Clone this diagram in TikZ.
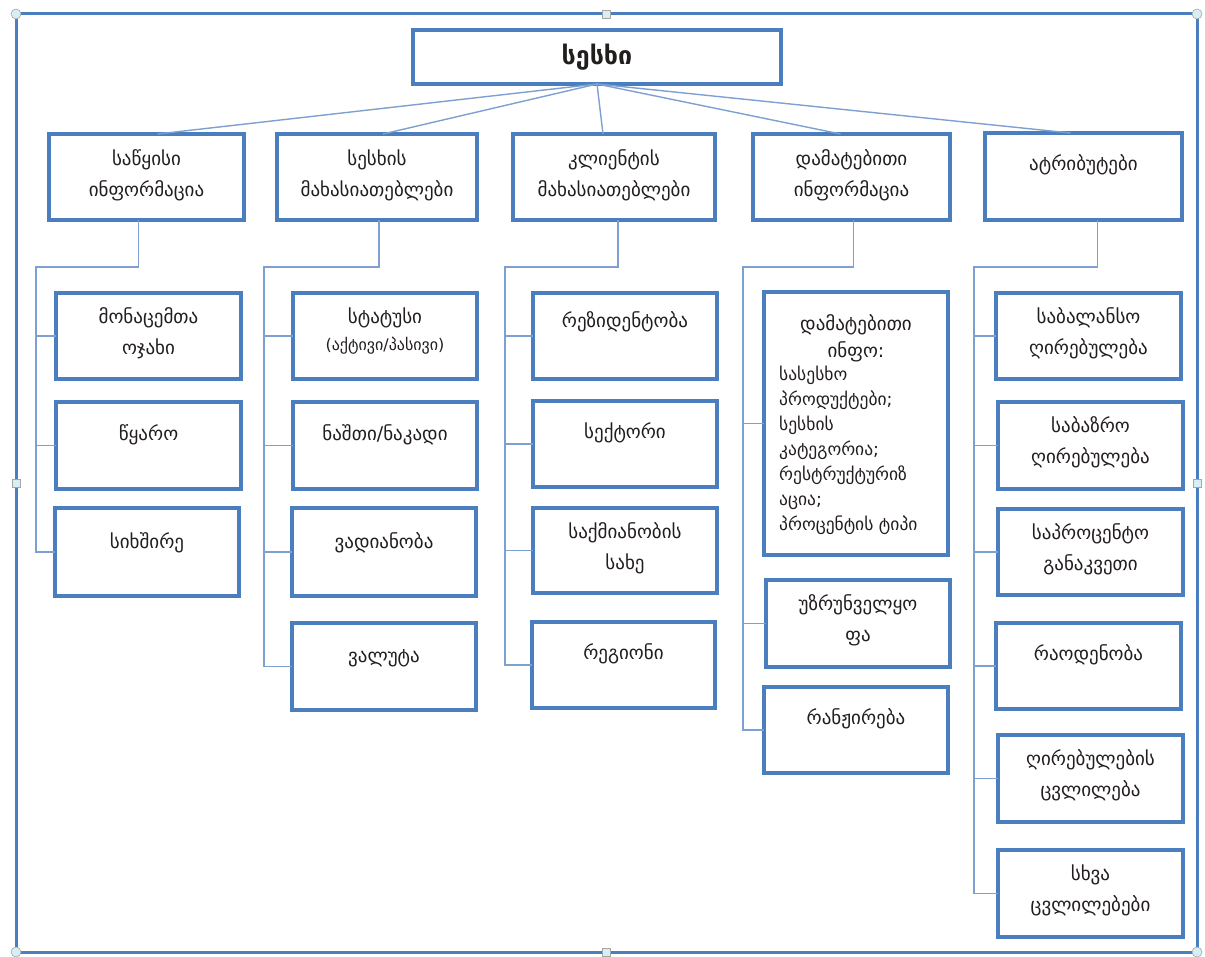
\documentclass[tikz,border=0pt]{standalone}
\usepackage{fontspec}
\newfontfamily\gfont{DejaVu Sans}
\usetikzlibrary{calc}
\definecolor{boxc}{RGB}{74,126,190}
\definecolor{connc}{RGB}{125,160,210}
\definecolor{txtc}{RGB}{35,30,30}
\definecolor{hfill}{RGB}{215,238,245}
\newcommand\gbox[5]{\node[box, minimum width={#4-#2}, minimum height={#5-#3}] (#1) at ({(#2+#4)/2},{(#3+#5)/2}) {};}
\begin{document}
\begin{tikzpicture}[x=1pt,y=-1pt,
  box/.style={draw=boxc, line width=3.4pt, fill=white, inner sep=0pt, outer sep=0pt},
  conn/.style={draw=connc, line width=1.4pt},
  txt/.style={font=\gfont\fontsize{19}{31}\selectfont, text=txtc, align=center, inner sep=0pt},
  stxt/.style={font=\gfont\fontsize{17.5}{25}\selectfont, text=txtc, align=left, inner sep=0pt},
  handle/.style={draw=gray!70, fill=hfill, line width=0.6pt}]
\useasboundingbox (0,0) rectangle (1205,957);
% frame
\draw[draw=boxc, line width=3pt] (16,14) rectangle (1197,952);
% root
\node[box, line width=3.8pt, minimum width=368, minimum height=54] (root) at (597,57) {};
\node[txt, font=\gfont\bfseries\fontsize{25}{30}\selectfont] (root-t) at (root.center) {სესხი};
% level 1
\gbox{b1}{49}{134}{244}{220}
\gbox{b2}{277}{134}{477}{220}
\gbox{b3}{513}{134}{715}{220}
\gbox{b4}{753}{134}{950}{220}
\gbox{b5}{985}{133}{1182}{220}
% col1
\gbox{c11}{56}{293}{241}{379}
\gbox{c12}{56}{402}{241}{489}
\gbox{c13}{55}{508}{239}{596}
% col2
\gbox{c21}{293}{293}{477}{379}
\gbox{c22}{293}{402}{477}{489}
\gbox{c23}{292}{508}{476}{596}
\gbox{c24}{292}{623}{476}{710}
% col3
\gbox{c31}{533}{293}{717}{379}
\gbox{c32}{533}{401}{717}{487}
\gbox{c33}{533}{508}{717}{593}
\gbox{c34}{532}{622}{715}{708}
% col4
\gbox{c41}{764}{292}{948}{555}
\gbox{c42}{766}{580}{950}{667}
\gbox{c43}{764}{687}{948}{773}
% col5
\gbox{c51}{996}{293}{1181}{379}
\gbox{c52}{998}{402}{1183}{489}
\gbox{c53}{998}{509}{1183}{595}
\gbox{c54}{996}{623}{1181}{709}
\gbox{c55}{998}{735}{1183}{822}
\gbox{c56}{998}{850}{1183}{937}
% connectors root -> level 1
\draw[conn] (root.south) -- ([xshift=11pt]b1.north);
\draw[conn] (root.south) -- ([xshift=6pt]b2.north);
\draw[conn] (root.south) -- ([xshift=-11pt]b3.north);
\draw[conn] (root.south) -- ([xshift=-11pt]b4.north);
\draw[conn] (root.south) -- ([xshift=-13pt]b5.north);
% trunks
\coordinate (k1) at (36,267);
\coordinate (k2) at (264,267);
\coordinate (k3) at (505,267);
\coordinate (k4) at (743,267);
\coordinate (k5) at (974,267);
\draw[conn] ([xshift=-8pt]b1.south) |- (k1) |- (c13.west);
\draw[conn] (k1) |- (c11.west); \draw[conn] (k1) |- (c12.west);
\draw[conn] ([xshift=2pt]b2.south) |- (k2) |- (c24.west);
\draw[conn] (k2) |- (c21.west); \draw[conn] (k2) |- (c22.west); \draw[conn] (k2) |- (c23.west);
\draw[conn] ([xshift=4pt]b3.south) |- (k3) |- (c34.west);
\draw[conn] (k3) |- (c31.west); \draw[conn] (k3) |- (c32.west); \draw[conn] (k3) |- (c33.west);
\draw[conn] ([xshift=2pt]b4.south) |- (k4) |- (c43.west);
\draw[conn] (k4) |- (c41.west); \draw[conn] (k4) |- (c42.west);
\draw[conn] ([xshift=14pt]b5.south) |- (k5) |- (c56.west);
\draw[conn] (k5) |- (c51.west); \draw[conn] (k5) |- (c52.west); \draw[conn] (k5) |- (c53.west); \draw[conn] (k5) |- (c54.west); \draw[conn] (k5) |- (c55.west);
% texts
\node[txt] (b1-t) at ([yshift=-41pt]b1.north) {საწყისი\\ინფორმაცია};
\node[txt] (b2-t) at ([yshift=-41pt]b2.north) {სესხის\\მახასიათებლები};
\node[txt] (b3-t) at ([yshift=-41pt]b3.north) {კლიენტის\\მახასიათებლები};
\node[txt] (b4-t) at ([yshift=-41pt]b4.north) {დამატებითი\\ინფორმაცია};
\node[txt] (b5-t) at ([yshift=-32pt]b5.north) {ატრიბუტები};
\node[txt] (c11-t) at ([yshift=-40pt]c11.north) {მონაცემთა\\ოჯახი};
\node[txt] (c12-t) at ([yshift=-33pt]c12.north) {წყარო};
\node[txt] (c13-t) at ([yshift=-35pt]c13.north) {სიხშირე};
\node[txt] (c21-t) at ([yshift=-38pt]c21.north) {სტატუსი\\[-4pt]{\fontsize{16}{20}\selectfont(აქტივი/პასივი)}};
\node[txt] (c22-t) at ([yshift=-33pt]c22.north) {ნაშთი/ნაკადი};
\node[txt] (c23-t) at ([yshift=-35pt]c23.north) {ვადიანობა};
\node[txt] (c24-t) at ([yshift=-35pt]c24.north) {ვალუტა};
\node[txt] (c31-t) at ([yshift=-29pt]c31.north) {რეზიდენტობა};
\node[txt] (c32-t) at ([yshift=-32pt]c32.north) {სექტორი};
\node[txt] (c33-t) at ([yshift=-40pt]c33.north) {საქმიანობის\\სახე};
\node[txt] (c34-t) at ([yshift=-32pt]c34.north) {რეგიონი};
\node[txt, font=\gfont\fontsize{19}{27}\selectfont] (c41-t) at ([yshift=-46pt]c41.north) {დამატებითი\\ინფო:};
\node[stxt, anchor=north west] (c41-l) at (779,366) {სასესხო\\პროდუქტები;\\სესხის\\კატეგორია;\\რესტრუქტურიზ\\აცია;\\პროცენტის ტიპი};
\node[txt] (c42-t) at ([yshift=-40pt]c42.north) {უზრუნველყო\\ფა};
\node[txt] (c43-t) at ([yshift=-32pt]c43.north) {რანჟირება};
\node[txt] (c51-t) at ([yshift=-40pt]c51.north) {საბალანსო\\ღირებულება};
\node[txt] (c52-t) at ([yshift=-40pt]c52.north) {საბაზრო\\ღირებულება};
\node[txt] (c53-t) at ([yshift=-40pt]c53.north) {საპროცენტო\\განაკვეთი};
\node[txt] (c54-t) at ([yshift=-32pt]c54.north) {რაოდენობა};
\node[txt] (c55-t) at ([yshift=-40pt]c55.north) {ღირებულების\\ცვლილება};
\node[txt] (c56-t) at ([yshift=-40pt]c56.north) {სხვა\\ცვლილებები};
% selection handles
\foreach \p in {(16,14),(1197,14),(16,952),(1197,952)} \draw[handle] \p circle (5);
\foreach \p in {(606,14),(16,483),(1197,483),(606,952)} \draw[handle] \p ++(-4,-4) rectangle ++(8,8);
\end{tikzpicture}
\end{document}
